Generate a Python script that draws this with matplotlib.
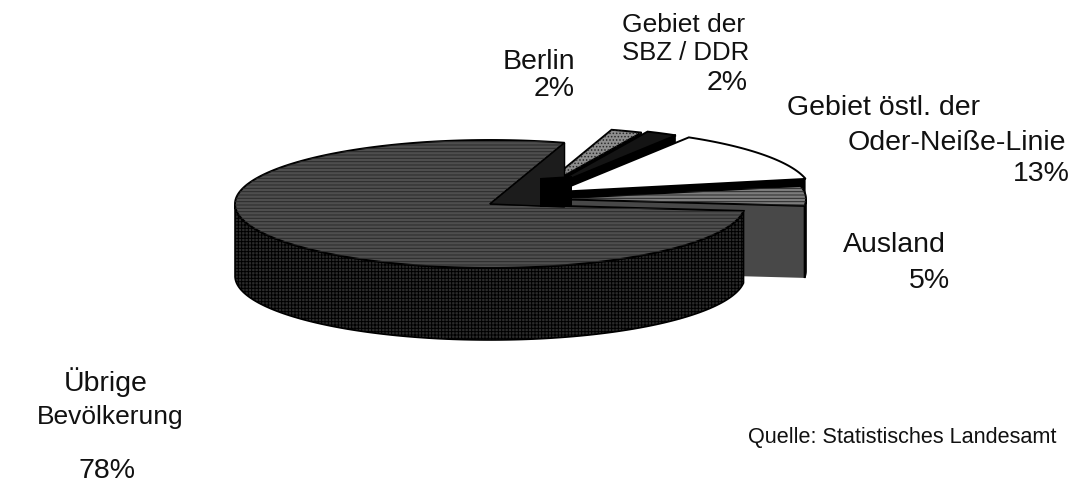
import numpy as np
import matplotlib
matplotlib.use("Agg")
import matplotlib.pyplot as plt
from matplotlib.patches import Polygon

# shares in percent, counter-clockwise from the notch
names = ["Übrige Bevölkerung", "Ausland", "Gebiet östl. der Oder-Neiße-Linie", "Gebiet der SBZ / DDR", "Berlin"]
shares = [78, 5, 13, 2, 2]
start_angle = 73

# apex of each slice in pixels
centers = [(490, 204), (551, 199), (556, 192), (543, 190), (537, 191)]
top_colors = ["#4e4e4e", "#7c7c7c", "#ffffff", "#141414", "#8e8e8e"]
top_hatch = ["-----", "-----", None, None, "....."]
wall_colors = ["#2b2b2b", "#484848", "#000000", "#000000", "#000000"]
draw_order = [4, 3, 2, 1, 0]

rx = 255
ry = 64
depth = 72

plt.rcParams["font.family"] = ["Liberation Sans", "DejaVu Sans"]
plt.rcParams["hatch.linewidth"] = 0.7

fig = plt.figure(figsize=(10.77, 4.84), dpi=100)
ax = fig.add_axes([0, 0, 1, 1])
ax.set_xlim(0, 1077)
ax.set_ylim(484, 0)
ax.axis("off")


def arc(center, a0, a1):
    t = np.radians(np.linspace(a0, a1, 200))
    return np.column_stack([center[0] + rx * np.cos(t), center[1] - ry * np.sin(t)])


def draw_slice(i, a0, a1):
    c = centers[i]
    pts = arc(c, a0, a1)
    # cut wall on the leading edge
    if i != 0:
        cut = [c, pts[0], (pts[0][0], pts[0][1] + depth), (c[0], c[1] + depth)]
        ax.add_patch(Polygon(cut, closed=True, fc=wall_colors[i], ec="none", zorder=1 + draw_order.index(i)))
    # outer wall, only the part facing the viewer
    t = np.linspace(a0, a1, 400)
    front = t[np.sin(np.radians(t)) <= 0.0]
    if len(front) > 1:
        edge = arc(c, front[0], front[-1])
        wall = np.vstack([edge, (edge + [0, depth])[::-1]])
        ax.add_patch(Polygon(wall, closed=True, fc=wall_colors[i], ec="black", lw=1.2,
                             hatch="+++++" if i == 0 else "|||||", zorder=1 + draw_order.index(i)))
    top = np.vstack([[c], pts])
    hatch = top_hatch[i]
    ax.add_patch(Polygon(top, closed=True, fc=top_colors[i], ec="black", lw=1.4,
                         zorder=1.5 + draw_order.index(i)))
    if hatch:
        ax.add_patch(Polygon(top, closed=True, fc="none", ec="#2a2a2a", lw=0, hatch=hatch,
                             zorder=1.6 + draw_order.index(i)))


angles = [start_angle]
for s in shares:
    angles.append(angles[-1] + s * 3.6)

# notch wall of the big slice
c0 = centers[0]
p0 = arc(c0, start_angle, start_angle)[0]
ax.add_patch(Polygon([c0, p0, (p0[0], c0[1] + 3)], closed=True, fc="#1c1c1c", ec="black", lw=1, zorder=5.8))
ax.add_patch(Polygon([(540, 207), (540, 178), (572, 176), (572, 207)], closed=True, fc="black", ec="none", zorder=5.9))

for i in draw_order:
    draw_slice(i, angles[i], angles[i + 1])

txt = dict(color="#111111", fontsize=20.5, zorder=20)
ax.text(575, 62, "Berlin", ha="right", va="center", **txt)
ax.text(575, 89, "2%", ha="right", va="center", **txt)
ax.text(622, 25, "Gebiet der", ha="left", va="center", color="#111111", fontsize=19, zorder=20)
ax.text(622, 53, "SBZ / DDR", ha="left", va="center", color="#111111", fontsize=18.5, zorder=20)
ax.text(748, 83, "2%", ha="right", va="center", **txt)
ax.text(787, 108, "Gebiet östl. der", ha="left", va="center", **txt)
ax.text(1066, 143, "Oder-Neiße-Linie", ha="right", va="center", **txt)
ax.text(1070, 174, "13%", ha="right", va="center", **txt)
ax.text(843, 245, "Ausland", ha="left", va="center", **txt)
ax.text(950, 281, "5%", ha="right", va="center", **txt)
ax.text(64, 382, "Übrige", ha="left", va="center", **txt)
ax.text(37, 417, "Bevölkerung", ha="left", va="center", color="#111111", fontsize=19, zorder=20)
ax.text(78, 471, "78%", ha="left", va="center", **txt)
ax.text(748, 437, "Quelle: Statistisches Landesamt", ha="left", va="center", color="#111111", fontsize=15.6, zorder=20)

fig.savefig("out.png", dpi=100)
